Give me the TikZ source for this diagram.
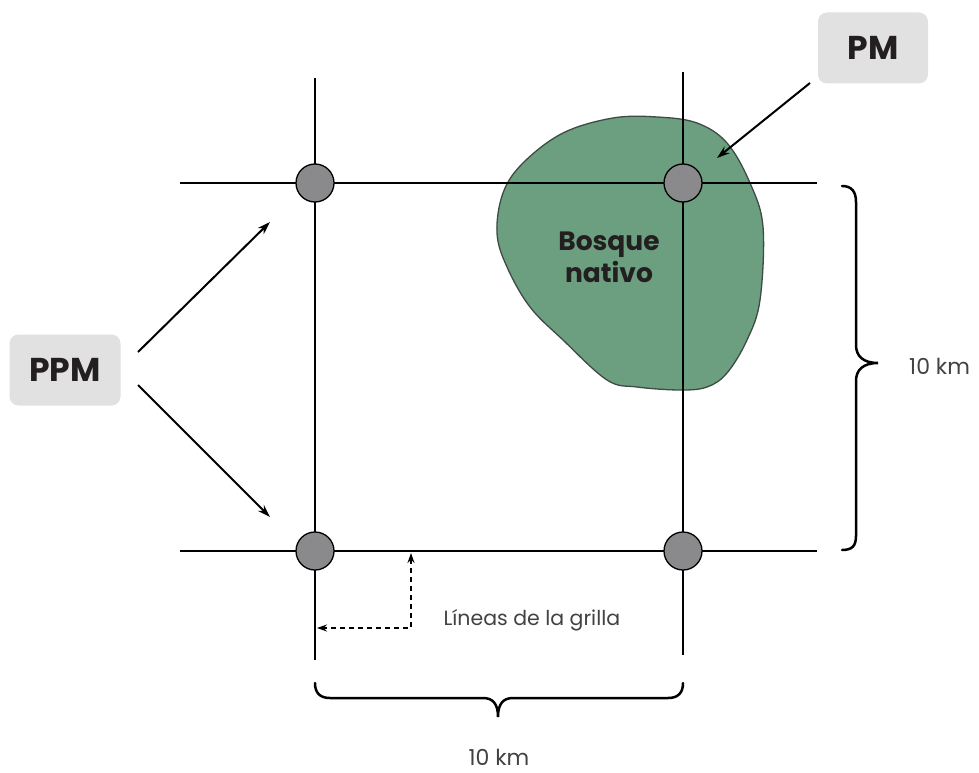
\documentclass[tikz,border=0pt]{standalone}
\usepackage{fontspec}
\setmainfont{Poppins}
\usetikzlibrary{arrows.meta}
\definecolor{txt}{HTML}{231F20}
\definecolor{boxgray}{HTML}{E1E1E1}
\definecolor{dotgray}{HTML}{8A8A8C}
\definecolor{forest}{HTML}{6B9F7F}
\definecolor{forestedge}{HTML}{3F4A44}
\tikzset{
  gridline/.style={line width=1.4pt, black},
  plotdot/.style={circle, draw=black, line width=1.3pt, fill=dotgray, minimum size=38pt, inner sep=0pt},
  tagbox/.style={rounded corners=9pt, fill=boxgray, text=txt, font=\fontsize{33}{36}\selectfont\bfseries, align=center},
  ptr/.style={line width=2pt, -{Stealth[length=13pt,width=8.5pt]}},
  dptr/.style={line width=1.4pt, dashed, dash pattern=on 5pt off 4pt, {Stealth[length=10pt,width=7pt]}-{Stealth[length=10pt,width=7pt]}},
  bracepath/.style={line width=2.5pt, line cap=round},
  lbl/.style={text=txt!85, font=\fontsize{20.5}{24}\selectfont},
  kmlbl/.style={text=txt!85, font=\fontsize{22}{26}\selectfont, inner sep=0pt},
}
\begin{document}
\begin{tikzpicture}[x=1pt,y=-1pt]
\useasboundingbox (0,0) rectangle (979,773);
% forest patch
\fill[forest, draw=forestedge, line width=1.3pt] plot[smooth cycle, tension=0.6] coordinates {
 (657,117) (697,123) (727,143) (750,183) (763,227) (760,300) (747,340) (727,373) (707,387) (680,390) (637,387) (607,380) (563,340) (530,307) (507,267) (497,233) (503,193) (523,163) (563,133) (613,118)};
\node[text=txt, font=\fontsize{26.5}{32}\selectfont\bfseries, align=center] (bosque) at (609,257) {Bosque\\nativo};
% grid lines
\coordinate (v1t) at (315,78);  \coordinate (v1b) at (315,660);
\coordinate (v2t) at (683,72);  \coordinate (v2b) at (683,655);
\coordinate (h1l) at (180,183); \coordinate (h1r) at (817,183);
\coordinate (h2l) at (180,551); \coordinate (h2r) at (817,551);
\draw[gridline] (v1t) -- (v1b);
\draw[gridline] (v2t) -- (v2b);
\draw[gridline] (h1l) -- (h1r);
\draw[gridline] (h2l) -- (h2r);
% plot points
\node[plotdot] (p11) at (315,183) {};
\node[plotdot] (p21) at (683,183) {};
\node[plotdot] (p12) at (315,551) {};
\node[plotdot] (p22) at (683,551) {};
% labels boxes
\node[tagbox, minimum width=110pt, minimum height=71pt] (pm) at (873,48) {PM};
\node[tagbox, minimum width=111pt, minimum height=71pt] (ppm) at (65,370) {PPM};
% arrows
\coordinate (ppmA) at (138,352); \coordinate (ppmAe) at (270,222);
\coordinate (ppmB) at (138,385); \coordinate (ppmBe) at (270,517);
\coordinate (pmA) at (810,83);   \coordinate (pmAe) at (717,158);
\draw[ptr] (ppmA) -- (ppmAe);
\draw[ptr] (ppmB) -- (ppmBe);
\draw[ptr] (pmA) -- (pmAe);
% grid line pointer
\coordinate (dUp) at (411,553);
\coordinate (dLeft) at (317,628);
\draw[dptr] (dUp) -- (411,628) -- (dLeft);
\node[lbl, anchor=west] (grilla) at (440,620) {Líneas de la grilla};
% braces
\draw[bracepath] (842,186) .. controls (852,186) and (856,192) .. (856,202) -- (856,345)
  .. controls (856,356) and (863,363) .. (878,363) .. controls (863,363) and (856,370) .. (856,381)
  -- (856,536) .. controls (856,546) and (852,550) .. (842,550);
\node[kmlbl, anchor=west] (kmR) at (909,366) {10 km};
\draw[bracepath] (315,683) .. controls (315,693) and (320,698) .. (330,698) -- (483,698)
  .. controls (493,698) and (498,704) .. (498,717) .. controls (498,704) and (503,698) .. (513,698)
  -- (668,698) .. controls (678,698) and (683,693) .. (683,683);
\node[kmlbl, anchor=base] (kmB) at (499,765) {10 km};
\end{tikzpicture}
\end{document}
